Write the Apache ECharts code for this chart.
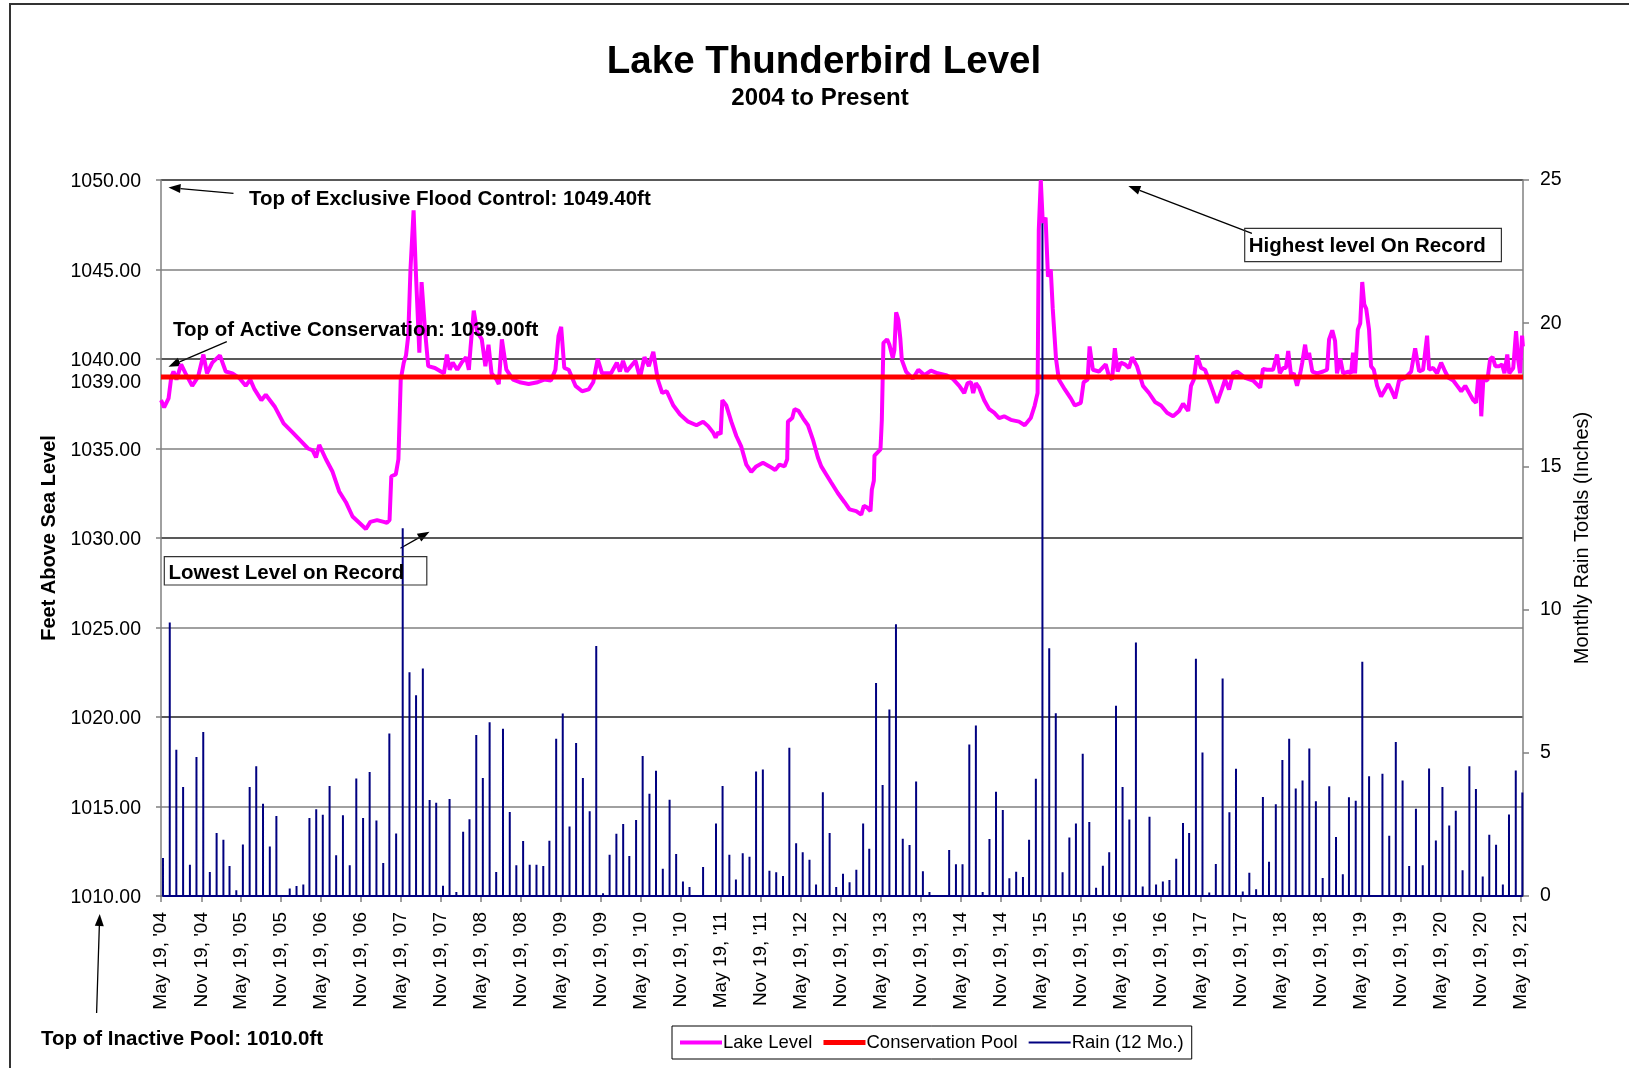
<!DOCTYPE html>
<html>
<head>
<meta charset="utf-8">
<title>Lake Thunderbird Level</title>
<script src="https://cdn.jsdelivr.net/npm/echarts@6/dist/echarts.min.js"></script>
<style>
  html, body { margin: 0; padding: 0; background: #fff; }
  #chart { width: 1629px; height: 1068px; }
</style>
</head>
<body>
<div id="chart"></div>
<script>
// ---- data ----
// lake level: date as decimal year, level in feet
const levelYears = [
  2004.380, 2004.419, 2004.474, 2004.508, 2004.536, 2004.573, 2004.631, 2004.686, 2004.769, 2004.842,
  2004.909, 2004.954, 2005.020, 2005.115, 2005.188, 2005.272, 2005.355, 2005.438, 2005.495, 2005.549,
  2005.634, 2005.689, 2005.800, 2005.912, 2006.024, 2006.133, 2006.218, 2006.275, 2006.318, 2006.358,
  2006.442, 2006.525, 2006.608, 2006.692, 2006.775, 2006.859, 2006.942, 2006.998, 2007.082, 2007.166,
  2007.204, 2007.238, 2007.260, 2007.316, 2007.349, 2007.378, 2007.416, 2007.444, 2007.472, 2007.500,
  2007.539, 2007.566, 2007.611, 2007.639, 2007.684, 2007.722, 2007.806, 2007.918, 2007.956, 2007.991,
  2008.029, 2008.085, 2008.140, 2008.196, 2008.230, 2008.252, 2008.291, 2008.335, 2008.391, 2008.436,
  2008.475, 2008.513, 2008.575, 2008.603, 2008.642, 2008.698, 2008.782, 2008.865, 2008.976, 2009.088,
  2009.171, 2009.255, 2009.311, 2009.350, 2009.383, 2009.422, 2009.478, 2009.562, 2009.645, 2009.728,
  2009.784, 2009.840, 2009.895, 2010.007, 2010.080, 2010.118, 2010.157, 2010.202, 2010.313, 2010.369,
  2010.425, 2010.480, 2010.536, 2010.592, 2010.648, 2010.704, 2010.787, 2010.871, 2010.972, 2011.076,
  2011.159, 2011.222, 2011.284, 2011.316, 2011.346, 2011.379, 2011.400, 2011.450, 2011.512, 2011.575,
  2011.637, 2011.700, 2011.762, 2011.824, 2011.908, 2011.990, 2012.061, 2012.115, 2012.178, 2012.211,
  2012.220, 2012.274, 2012.302, 2012.352, 2012.407, 2012.470, 2012.532, 2012.594, 2012.636, 2012.698,
  2012.760, 2012.844, 2012.926, 2012.989, 2013.072, 2013.135, 2013.168, 2013.210, 2013.251, 2013.268,
  2013.293, 2013.301, 2013.343, 2013.376, 2013.393, 2013.413, 2013.459, 2013.488, 2013.530, 2013.550,
  2013.572, 2013.600, 2013.625, 2013.643, 2013.696, 2013.780, 2013.850, 2013.925, 2014.008, 2014.092,
  2014.196, 2014.279, 2014.362, 2014.424, 2014.466, 2014.508, 2014.536, 2014.570, 2014.611, 2014.674,
  2014.736, 2014.798, 2014.861, 2014.923, 2015.007, 2015.110, 2015.181, 2015.256, 2015.306, 2015.342,
  2015.357, 2015.382, 2015.407, 2015.442, 2015.472, 2015.507, 2015.532, 2015.573, 2015.608, 2015.683,
  2015.758, 2015.808, 2015.883, 2015.918, 2015.968, 2015.993, 2016.034, 2016.109, 2016.194, 2016.234,
  2016.273, 2016.308, 2016.343, 2016.383, 2016.433, 2016.484, 2016.524, 2016.584, 2016.659, 2016.734,
  2016.809, 2016.884, 2016.960, 2017.035, 2017.110, 2017.160, 2017.224, 2017.259, 2017.294, 2017.334,
  2017.385, 2017.435, 2017.510, 2017.585, 2017.645, 2017.685, 2017.735, 2017.786, 2017.836, 2017.936,
  2018.036, 2018.125, 2018.160, 2018.210, 2018.286, 2018.336, 2018.371, 2018.411, 2018.446, 2018.476,
  2018.511, 2018.546, 2018.586, 2018.626, 2018.651, 2018.687, 2018.712, 2018.737, 2018.777, 2018.837,
  2018.912, 2018.962, 2018.987, 2019.027, 2019.062, 2019.086, 2019.128, 2019.163, 2019.228, 2019.262,
  2019.287, 2019.312, 2019.347, 2019.377, 2019.402, 2019.427, 2019.452, 2019.487, 2019.512, 2019.547,
  2019.588, 2019.638, 2019.688, 2019.728, 2019.763, 2019.813, 2019.863, 2019.938, 2020.014, 2020.064,
  2020.114, 2020.163, 2020.213, 2020.238, 2020.288, 2020.338, 2020.388, 2020.438, 2020.479, 2020.539,
  2020.589, 2020.639, 2020.689, 2020.739, 2020.789, 2020.824, 2020.849, 2020.874, 2020.889, 2020.915,
  2020.965, 2021.000, 2021.030, 2021.065, 2021.114, 2021.149, 2021.179, 2021.214, 2021.239, 2021.289,
  2021.324, 2021.349, 2021.374, 2021.399, 2021.410
];
const levelFeet = [
  1037.7, 1037.3, 1037.8, 1039.0, 1039.3, 1038.85, 1039.7, 1039.2, 1038.5, 1039.0,
  1040.25, 1039.2, 1039.8, 1040.2, 1039.3, 1039.2, 1038.95, 1038.5, 1038.85, 1038.3,
  1037.7, 1038.0, 1037.35, 1036.4, 1035.9, 1035.4, 1035.0, 1034.9, 1034.5, 1035.2,
  1034.4, 1033.7, 1032.6, 1032.0, 1031.2, 1030.85, 1030.5, 1030.9, 1031.0, 1030.9,
  1030.85, 1031.0, 1033.45, 1033.55, 1034.4, 1038.85, 1039.8, 1040.2, 1041.3, 1045.0,
  1048.3, 1045.0, 1040.35, 1044.3, 1041.5, 1039.6, 1039.5, 1039.2, 1040.25, 1039.4,
  1039.8, 1039.4, 1039.8, 1040.1, 1039.4, 1040.7, 1042.7, 1041.5, 1041.1, 1039.6,
  1040.8, 1039.2, 1038.85, 1038.6, 1041.1, 1039.4, 1038.85, 1038.7, 1038.6, 1038.7,
  1038.85, 1038.8, 1039.4, 1041.3, 1041.8, 1039.5, 1039.4, 1038.5, 1038.2, 1038.3,
  1038.7, 1040.0, 1039.2, 1039.2, 1039.8, 1039.3, 1039.9, 1039.3, 1039.9, 1038.95,
  1040.1, 1039.6, 1040.4, 1038.85, 1038.1, 1038.2, 1037.4, 1036.9, 1036.5, 1036.3,
  1036.5, 1036.25, 1035.9, 1035.6, 1035.9, 1035.8, 1037.7, 1037.4, 1036.5, 1035.7,
  1035.1, 1034.1, 1033.7, 1034.0, 1034.2, 1034.0, 1033.8, 1034.1, 1034.0, 1034.4,
  1036.5, 1036.7, 1037.2, 1037.1, 1036.7, 1036.3, 1035.5, 1034.5, 1034.0, 1033.55,
  1033.1, 1032.5, 1032.0, 1031.6, 1031.5, 1031.3, 1031.8, 1031.7, 1031.5, 1032.7,
  1033.2, 1034.6, 1034.8, 1034.95, 1036.6, 1040.9, 1041.1, 1040.8, 1040.05, 1040.5,
  1042.6, 1042.2, 1041.1, 1039.95, 1039.3, 1038.9, 1039.4, 1039.1, 1039.35, 1039.2,
  1039.1, 1038.9, 1038.5, 1038.1, 1038.65, 1038.7, 1038.1, 1038.65, 1038.4, 1037.7,
  1037.2, 1037.0, 1036.7, 1036.8, 1036.6, 1036.5, 1036.3, 1036.7, 1037.4, 1038.1,
  1047.2, 1050.0, 1047.6, 1047.9, 1044.6, 1045.0, 1042.8, 1040.0, 1038.85, 1038.3,
  1037.8, 1037.4, 1037.55, 1038.7, 1038.85, 1040.7, 1039.4, 1039.3, 1039.7, 1039.05,
  1038.85, 1040.6, 1039.3, 1039.8, 1039.7, 1039.5, 1040.1, 1039.6, 1038.5, 1038.1,
  1037.6, 1037.4, 1037.0, 1036.8, 1037.1, 1037.5, 1037.1, 1038.5, 1038.85, 1040.2,
  1039.5, 1039.4, 1038.5, 1037.55, 1038.3, 1038.85, 1038.3, 1039.2, 1039.3, 1038.95,
  1038.8, 1038.4, 1039.45, 1039.4, 1039.4, 1040.25, 1039.2, 1039.5, 1039.5, 1040.45,
  1039.1, 1039.2, 1038.5, 1039.2, 1039.8, 1040.8, 1040.0, 1040.35, 1039.3, 1039.2,
  1039.3, 1039.4, 1041.1, 1041.6, 1041.0, 1039.2, 1040.0, 1039.2, 1039.3, 1039.2,
  1040.35, 1039.2, 1041.65, 1042.0, 1044.3, 1043.05, 1042.8, 1041.65, 1039.6, 1039.4,
  1038.5, 1037.9, 1038.3, 1038.6, 1038.3, 1037.8, 1038.8, 1038.95, 1039.3, 1040.6,
  1039.3, 1039.4, 1041.3, 1039.4, 1039.5, 1039.2, 1039.8, 1039.3, 1038.95, 1038.8,
  1038.5, 1038.2, 1038.5, 1038.1, 1037.7, 1037.55, 1038.85, 1038.85, 1036.8, 1038.85,
  1038.8, 1040.0, 1040.1, 1039.6, 1039.6, 1039.7, 1039.2, 1040.25, 1039.2, 1039.5,
  1041.55, 1040.0, 1039.2, 1041.3, 1040.7
];
// top of active conservation pool (ft)
const conservationPool = 1039.0;
// monthly rain totals (inches), one per month starting May 2004
const rainFirstMonth = [2004, 5];
const rainInches = [
  1.33, 9.55, 5.11, 3.81, 1.09, 4.85, 5.73, 0.84,
  2.20, 1.96, 1.05, 0.20, 1.80, 3.81, 4.53, 3.22, 1.73, 2.79, 0.00, 0.26,
  0.35, 0.40, 2.72, 3.03, 2.84, 3.84, 1.42, 2.82, 1.07, 4.10, 2.72, 4.33,
  2.64, 1.15, 5.67, 2.18, 12.84, 7.81, 7.01, 7.94, 3.35, 3.26, 0.36, 3.39,
  0.14, 2.24, 2.68, 5.62, 4.12, 6.07, 0.84, 5.84, 2.93, 1.07, 1.92, 1.09,
  1.09, 1.05, 1.93, 5.49, 6.37, 2.43, 5.34, 4.12, 2.96, 8.73, 0.10, 1.44,
  2.17, 2.51, 1.40, 2.65, 4.89, 3.57, 4.37, 0.95, 3.36, 1.47, 0.51, 0.31,
  0.02, 1.01, 0.02, 2.53, 3.84, 1.44, 0.58, 1.49, 1.37, 4.35, 4.42, 0.88,
  0.83, 0.70, 5.18, 1.84, 1.53, 1.27, 0.40, 3.62, 2.20, 0.31, 0.78, 0.48,
  0.92, 2.53, 1.65, 7.44, 3.88, 6.51, 9.49, 2.00, 1.78, 4.00, 0.86, 0.14,
  0.02, 0.02, 1.61, 1.11, 1.11, 5.29, 5.95, 0.14, 1.99, 3.64, 3.00, 0.62,
  0.85, 0.66, 1.96, 4.09, 23.49, 8.65, 6.38, 0.83, 2.04, 2.53, 4.97, 2.58,
  0.29, 1.06, 1.53, 6.64, 3.81, 2.67, 8.85, 0.33, 2.77, 0.40, 0.51, 0.56,
  1.30, 2.55, 2.20, 8.28, 5.01, 0.12, 1.12, 7.59, 2.92, 4.44, 0.16, 0.81,
  0.24, 3.46, 1.20, 3.20, 4.75, 5.49, 3.75, 4.03, 5.15, 3.31, 0.63, 3.83,
  2.06, 0.76, 3.45, 3.33, 8.18, 4.18, 0.00, 4.27, 2.10, 5.38, 4.03, 1.05,
  3.05, 1.07, 4.45, 1.94, 3.81, 2.46, 2.98, 0.90, 4.53, 3.74, 0.68, 2.14,
  1.79, 0.40, 2.85, 4.38, 3.61
];
// x axis tick dates and their labels
const tickDates = [
  '2004-05-19', '2004-11-19', '2005-05-19', '2005-11-19', '2006-05-19', '2006-11-19',
  '2007-05-19', '2007-11-19', '2008-05-19', '2008-11-19', '2009-05-19', '2009-11-19',
  '2010-05-19', '2010-11-19', '2011-05-19', '2011-11-19', '2012-05-19', '2012-11-19',
  '2013-05-19', '2013-11-19', '2014-05-19', '2014-11-19', '2015-05-19', '2015-11-19',
  '2016-05-19', '2016-11-19', '2017-05-19', '2017-11-19', '2018-05-19', '2018-11-19',
  '2019-05-19', '2019-11-19', '2020-05-19', '2020-11-19', '2021-05-19'
];
const tickLabels = [
  "May 19, '04", "Nov 19, '04", "May 19, '05", "Nov 19, '05", "May 19, '06", "Nov 19, '06",
  "May 19, '07", "Nov 19, '07", "May 19, '08", "Nov 19, '08", "May 19, '09", "Nov 19, '09",
  "May 19, '10", "Nov 19, '10", "May 19, '11", "Nov 19, '11", "May 19, '12", "Nov 19, '12",
  "May 19, '13", "Nov 19, '13", "May 19, '14", "Nov 19, '14", "May 19, '15", "Nov 19, '15",
  "May 19, '16", "Nov 19, '16", "May 19, '17", "Nov 19, '17", "May 19, '18", "Nov 19, '18",
  "May 19, '19", "Nov 19, '19", "May 19, '20", "Nov 19, '20", "May 19, '21"
];
// left axis labels (1039 is the extra conservation label)
const levelTicks = [1010, 1015, 1020, 1025, 1030, 1035, 1039, 1040, 1045, 1050];

// ---- helpers ----
function yearToTime(y) {
  const yr = Math.floor(y);
  const a = Date.UTC(yr, 0, 1), b = Date.UTC(yr + 1, 0, 1);
  return a + (y - yr) * (b - a);
}
function dateToTime(s) {
  const p = s.split('-').map(Number);
  return Date.UTC(p[0], p[1] - 1, p[2]);
}

const xMin = Date.UTC(2004, 4, 19);
const xMax = Date.UTC(2021, 4, 31);
const tickTimes = tickDates.map(dateToTime);

const levelData = levelYears.map((y, i) => [yearToTime(y), levelFeet[i]]);
const poolData = [[xMin, conservationPool], [xMax, conservationPool]];
// rain drawn as spikes: up to the total and back to 0 at the month's date
const rainData = [];
rainInches.forEach((v, i) => {
  const t = Date.UTC(rainFirstMonth[0], rainFirstMonth[1] - 1 + i, 28);
  rainData.push([t, 0], [t, v], [t, 0]);
});

const FONT = 'Liberation Sans, Arial, sans-serif';

// legend icons: a bar of the given thickness centred in a 42x14 box
function barIcon(th) {
  const y = (14 - th) / 2;
  return 'path://M0,0L0.01,0M0,14L0.01,14M0,' + y + 'h42v' + th + 'h-42z';
}

// arrow made of a line and a filled head
function arrow(x1, y1, x2, y2) {
  const ang = Math.atan2(y2 - y1, x2 - x1);
  const len = 12, half = 4.5;
  const bx = x2 - len * Math.cos(ang), by = y2 - len * Math.sin(ang);
  const px = -Math.sin(ang) * half, py = Math.cos(ang) * half;
  return [
    { type: 'line', shape: { x1: x1, y1: y1, x2: bx, y2: by }, style: { stroke: '#000', lineWidth: 1.3 } },
    { type: 'polygon', shape: { points: [[x2, y2], [bx + px, by + py], [bx - px, by - py]] }, style: { fill: '#000' } }
  ];
}
function label(text, x, y, size, weight, align) {
  return {
    type: 'text', x: x, y: y, z: 10,
    style: { text: text, fill: '#000', fontSize: size, fontWeight: weight, fontFamily: FONT,
             align: align || 'left', verticalAlign: 'middle' }
  };
}
function box(x, y, w, h) {
  return { type: 'rect', shape: { x: x, y: y, width: w, height: h },
           style: { fill: 'none', stroke: '#333', lineWidth: 1.2 }, z: 9 };
}

const myChart = echarts.init(document.getElementById('chart'));
myChart.setOption({
  animation: false,
  backgroundColor: '#fff',
  textStyle: { fontFamily: FONT, color: '#000' },
  grid: { left: 161, right: 106, top: 180, bottom: 172 },
  legend: {
    data: [
      { name: 'Lake Level', icon: barIcon(4) },
      { name: 'Conservation Pool', icon: barIcon(5) },
      { name: 'Rain (12 Mo.)', icon: barIcon(2) }
    ],
    left: 672, top: 1026,
    padding: [7, 8, 7, 8],
    itemGap: 11, itemWidth: 42, itemHeight: 14,
    borderColor: '#000', borderWidth: 1,
    itemStyle: { borderWidth: 0 },
    textStyle: { fontSize: 18.5, color: '#000', fontFamily: FONT, padding: [0, 0, 0, -4] }
  },
  xAxis: {
    type: 'value', min: xMin, max: xMax,
    splitLine: { show: false },
    axisLine: { onZero: false, lineStyle: { color: '#808080', width: 1.5 } },
    axisTick: { show: true, customValues: tickTimes, length: 6, lineStyle: { color: '#808080', width: 1.5 } },
    axisLabel: {
      customValues: tickTimes, rotate: 90, margin: 16,
      fontSize: 19, color: '#000', fontFamily: FONT,
      formatter: function (v) {
        let best = 0;
        tickTimes.forEach((t, i) => { if (Math.abs(t - v) < Math.abs(tickTimes[best] - v)) best = i; });
        return tickLabels[best];
      }
    }
  },
  yAxis: [
    {
      type: 'value', min: 1010, max: 1050, interval: 5,
      name: 'Feet Above Sea Level', nameLocation: 'middle', nameGap: 98,
      nameTextStyle: { fontSize: 20, fontWeight: 'bold', color: '#000', fontFamily: FONT },
      axisLine: { show: true, lineStyle: { color: '#808080', width: 1.5 } },
      axisTick: { show: true, length: 5, lineStyle: { color: '#808080', width: 1.5 } },
      axisLabel: {
        customValues: levelTicks, fontSize: 19.5, color: '#000', margin: 20, padding: [4, 0, 0, 0],
        formatter: v => v === conservationPool ? '{low|' + v.toFixed(2) + '}' : v.toFixed(2),
        rich: { low: { fontSize: 19.5, color: '#000', fontFamily: FONT, padding: [8, 0, 0, 0] } }
      },
      splitLine: { show: true, lineStyle: { color: ['#222', '#808080'], width: 1.5 } }
    },
    {
      type: 'value', min: 0, max: 25, interval: 5, position: 'right',
      name: 'Monthly Rain Totals (Inches)', nameLocation: 'middle', nameGap: 49,
      nameTextStyle: { fontSize: 20, color: '#000', fontFamily: FONT },
      axisLine: { show: true, lineStyle: { color: '#808080', width: 1.5 } },
      axisTick: { show: true, length: 6, lineStyle: { color: '#808080', width: 1.5 } },
      axisLabel: { fontSize: 19.5, color: '#000', margin: 17, padding: [4, 0, 0, 0] },
      splitLine: { show: false }
    }
  ],
  series: [
    {
      name: 'Lake Level', type: 'line', yAxisIndex: 0, data: levelData,
      symbol: 'none', lineStyle: { color: '#ff00ff', width: 4 }, itemStyle: { color: '#ff00ff' }
    },
    {
      name: 'Conservation Pool', type: 'line', yAxisIndex: 0, data: poolData,
      symbol: 'none', lineStyle: { color: '#ff0000', width: 5 }, itemStyle: { color: '#ff0000' }
    },
    {
      name: 'Rain (12 Mo.)', type: 'line', yAxisIndex: 1, data: rainData,
      symbol: 'none', lineStyle: { color: '#000080', width: 2 }, itemStyle: { color: '#000080' }
    }
  ],
  graphic: [
    // outer frame
    { type: 'rect', shape: { x: 10, y: 4, width: 1700, height: 1100 }, style: { fill: 'none', stroke: '#333', lineWidth: 2 } },
    label('Lake Thunderbird Level', 824, 62, 38.5, 'bold', 'center'),
    label('2004 to Present', 820, 98, 24, 'bold', 'center'),
    label('Top of Exclusive Flood Control: 1049.40ft', 249, 199, 20.5, 'bold'),
    ...arrow(233.5, 193.3, 168.5, 187.5),
    label('Top of Active Conservation: 1039.00ft', 173, 330, 20.5, 'bold'),
    ...arrow(226.8, 341.7, 168.5, 366.7),
    box(164.3, 556.7, 262.5, 28.3),
    label('Lowest Level on Record', 168.5, 573.5, 20.5, 'bold'),
    ...arrow(400.4, 548.3, 429.5, 531.7),
    box(1244.7, 228.3, 256.7, 33.4),
    label('Highest level On Record', 1248.7, 246.5, 20.5, 'bold'),
    ...arrow(1251.9, 233.3, 1128.4, 186),
    label('Top of Inactive Pool: 1010.0ft', 41, 1039, 20.5, 'bold'),
    ...arrow(96.6, 1013, 99.7, 914)
  ]
});
</script>
</body>
</html>
